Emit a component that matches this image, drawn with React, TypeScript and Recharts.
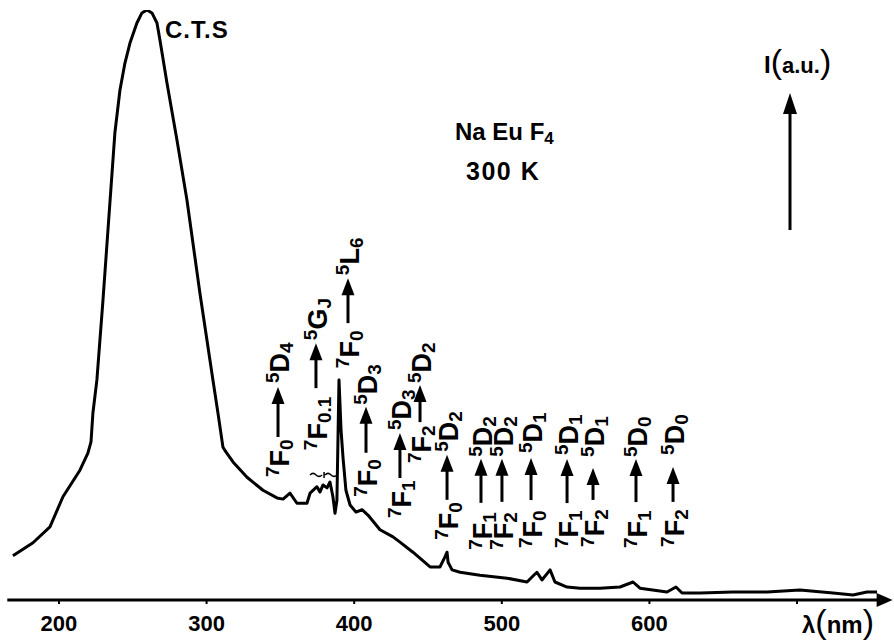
import { LineChart, Line, XAxis, YAxis, ReferenceDot, Customized } from 'recharts';

// excitation spectrum (nm, arbitrary units)
const wavelength = [
  168.8, 182.4, 193.9, 202.7, 214.2, 219.6, 221.7, 223.0, 225.7, 229.8, 237.9, 241.3, 244.7,
  248.1, 252.8, 256.2, 259.6, 263.0, 266.4, 268.4, 273.2, 279.9, 286.7, 295.5, 304.3, 307.7,
  311.1, 313.1, 317.9, 327.4, 338.2, 347.7, 351.8, 356.5, 361.2, 368.0, 370.1, 374.8, 376.8,
  378.9, 381.6, 383.6, 385.6, 387.0, 388.3, 389.7, 391.1, 392.4, 394.4, 397.2, 401.2, 405.3,
  409.3, 417.5, 426.3, 431.0, 439.8, 451.4, 458.1, 461.5, 462.9, 463.6, 466.3, 471.7, 485.2,
  503.5, 517.1, 522.5, 523.8, 527.2, 532.7, 536.0, 544.2, 553.0, 566.5, 580.1, 588.9, 593.6,
  611.9, 618.0, 622.1, 634.3, 656.6, 679.7, 702.0, 724.4, 737.9, 747.4, 754.2,
];
const intensity = [
  7.5, 9.7, 12.4, 17.5, 22.0, 24.9, 26.8, 31.7, 37.3, 50.8, 79.2, 86.4, 91.0,
  94.4, 97.8, 99.5, 100, 99.5, 97.8, 94.9, 87.6, 78.0, 67.8, 52.0, 37.3, 31.7,
  25.9, 25.1, 23.4, 20.8, 18.6, 17.3, 17.1, 18.1, 16.4, 16.4, 18.1, 19.2, 18.3,
  19.5, 19.0, 20.0, 17.5, 14.7, 16.9, 37.3, 28.8, 24.2, 18.6, 16.1, 14.9, 15.3,
  14.4, 11.9, 10.7, 9.8, 8.1, 5.6, 5.6, 7.3, 8.1, 6.4, 5.1, 4.7, 4.2,
  3.7, 3.05, 4.4, 4.7, 3.4, 5.1, 3.05, 2.2, 2.0, 2.0, 2.2, 3.05, 2.0,
  1.36, 2.2, 1.19, 1.19, 1.36, 1.36, 1.7, 1.19, 0.85, 1.36, 1.36,
];

const xTicks = [200, 300, 400, 500, 600, 700];
const xTickLabels = ['200', '300', '400', '500', '600', ''];

// Eu3+ transitions marked on the plot
const transitionLambda = [348.4, 374.1, 395.8, 408.0, 431.0, 444.6, 462.9, 485.9, 500.1, 519.8, 544.2, 561.8, 590.9, 616.0];
const transitionFrom = ['7F0', '7F0.1', '7F0', '7F0', '7F1', '7F2', '7F0', '7F1', '7F2', '7F0', '7F1', '7F2', '7F1', '7F2'];
const transitionTo = ['5D4', '5GJ', '5L6', '5D3', '5D3', '5D2', '5D2', '5D2', '5D2', '5D1', '5D1', '5D1', '5D0', '5D0'];

// where each label sits: bottom level (intensity units) and offsets (px) up the rotated label
const labelBase = [20.85, 25.4, 39.3, 17.5, 13.9, 23.2, 10.2, 8.5, 8.5, 8.8, 8.8, 9.0, 8.8, 9.0];
const arrowStart = [40, 62, 45, 44, 40, 41, 40, 47, 48, 48, 45, 47, 46, 45];
const arrowEnd = [90, 107, 90, 90, 85, 78, 85, 91, 91, 90, 89, 79, 89, 80];
const upperStart = [94, 110, 93, 92, 88, 80, 88, 93, 93, 95, 93, 90, 91, 92];

const FONT = '"Liberation Sans", Arial, sans-serif';

const rows = wavelength.map((w, k) => ({ w, i: intensity[k] }));

// term symbol written bottom-to-top, baseline to the right of the arrow
const Term = ({ cx, cy, up, label }: { cx: number; cy: number; up: number; label: string }) => (
  <text
    transform={`translate(${cx + 11},${cy - up}) rotate(-90)`}
    x={0}
    y={0}
    fontSize={27}
    fontWeight="bold"
    fontFamily={FONT}
    fill="#000"
  >
    <tspan fontSize={19} dy={-10}>{label[0]}</tspan>
    <tspan fontSize={27} dy={10}>{label[1]}</tspan>
    <tspan fontSize={19} dy={4}>{label.slice(2)}</tspan>
  </text>
);

const transitionShape = (k: number) => (p: any) => {
  const { cx, cy } = p;
  const a0 = arrowStart[k];
  const a1 = arrowEnd[k];
  return (
    <g>
      <Term cx={cx} cy={cy} up={0} label={transitionFrom[k]} />
      <line x1={cx} y1={cy - a0} x2={cx} y2={cy - a1 + 12} stroke="#000" strokeWidth={3} />
      <polygon points={`${cx},${cy - a1} ${cx - 6.5},${cy - a1 + 17} ${cx + 6.5},${cy - a1 + 17}`} fill="#000" />
      <Term cx={cx} cy={cy} up={upperStart[k]} label={transitionTo[k]} />
    </g>
  );
};

const axisArrow = (p: any) => (
  <polygon points={`${p.cx + 7},${p.cy} ${p.cx - 9},${p.cy - 7} ${p.cx - 9},${p.cy + 7}`} fill="#000" />
);

const breakMark = (p: any) => (
  <path
    d={`M${p.cx - 13},${p.cy} q3,-3 6,0 t6,0 M${p.cx + 1},${p.cy - 3} l0,6 M${p.cx + 2},${p.cy} q3,-3 6,0 t6,0`}
    fill="none"
    stroke="#000"
    strokeWidth={1.5}
  />
);

const Overlay = () => (
  <g fontFamily={FONT} fontWeight="bold" fill="#000">
    <text x={165} y={38} fontSize={24} letterSpacing={1}>C.T.S</text>
    <text x={455} y={140} fontSize={24}>
      Na Eu F<tspan fontSize={17} dy={4}>4</tspan>
    </text>
    <text x={466} y={180} fontSize={25} letterSpacing={1.5}>300 K</text>
    <text x={764} y={73} fontSize={24}>
      I<tspan fontSize={34} fontWeight="normal">(</tspan>
      <tspan fontSize={22}>a.u.</tspan>
      <tspan fontSize={34} fontWeight="normal">)</tspan>
    </text>
    <line x1={790} y1={230} x2={790} y2={108} stroke="#000" strokeWidth={3} />
    <polygon points="790,93 783,114 797,114" fill="#000" />
    <text x={802} y={633} fontSize={24}>
      λ<tspan fontSize={34} fontWeight="normal">(</tspan>
      <tspan>nm</tspan>
      <tspan fontSize={34} fontWeight="normal">)</tspan>
    </text>
  </g>
);

export default function App() {
  return (
    <div style={{ position: 'absolute', left: 0, top: 0, width: 894, height: 644, background: '#fff' }}>
      <LineChart width={894} height={644} data={rows} margin={{ top: 10, right: 8.4, bottom: 14, left: 7.3 }}>
        <XAxis
          type="number"
          dataKey="w"
          domain={[165, 760]}
          allowDataOverflow
          ticks={xTicks}
          interval={0}
          tickFormatter={(v: number) => xTickLabels[xTicks.indexOf(v)] ?? ''}
          axisLine={{ stroke: '#000', strokeWidth: 3 }}
          tickLine={{ stroke: '#000', strokeWidth: 2 }}
          tickSize={4}
          tickMargin={11}
          tick={{ fontSize: 22, fontWeight: 'bold', fill: '#000', fontFamily: FONT }}
        />
        <YAxis hide type="number" domain={[0, 100]} allowDataOverflow />
        <Line
          type="linear"
          dataKey="i"
          stroke="#000"
          strokeWidth={3}
          strokeLinejoin="round"
          dot={false}
          isAnimationActive={false}
        />
        {transitionLambda.map((w, k) => (
          <ReferenceDot key={k} x={w} y={labelBase[k]} r={0} ifOverflow="visible" shape={transitionShape(k)} />
        ))}
        <ReferenceDot x={378.9} y={21.2} r={0} ifOverflow="visible" shape={breakMark} />
        <ReferenceDot x={760} y={0} r={0} ifOverflow="visible" shape={axisArrow} />
        <Customized component={Overlay} />
      </LineChart>
    </div>
  );
}
